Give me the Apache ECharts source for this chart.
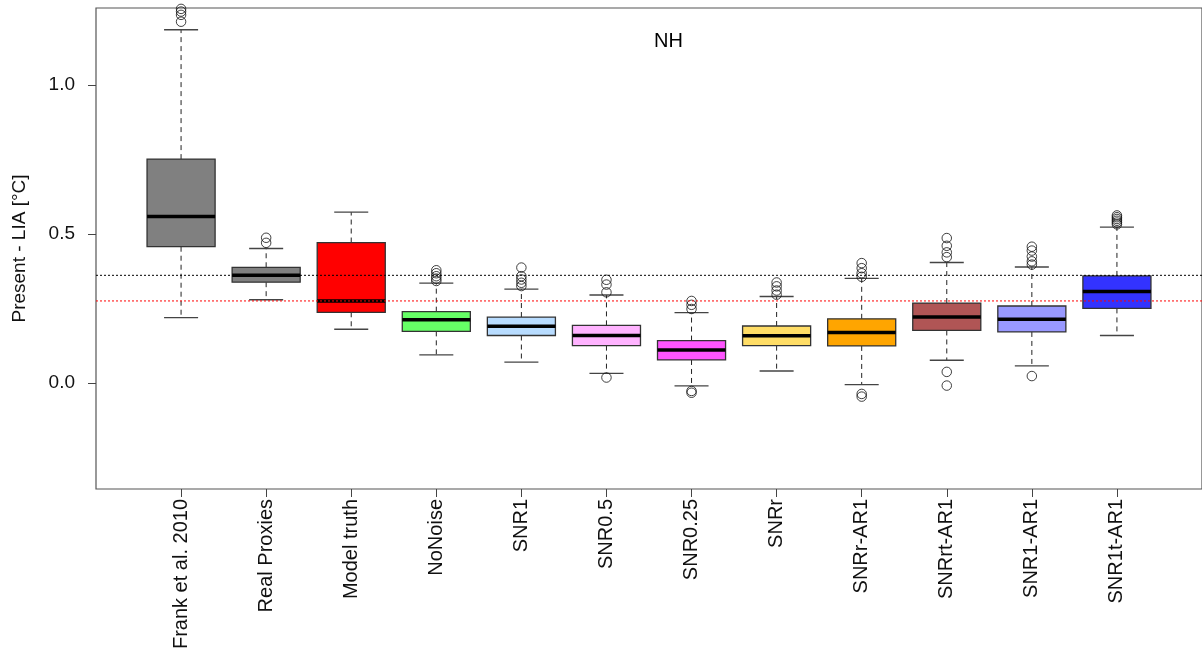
<!DOCTYPE html>
<html>
<head>
<meta charset="utf-8">
<script src="https://cdn.jsdelivr.net/npm/echarts@6/dist/echarts.min.js"></script>
<style>
  html, body { margin: 0; padding: 0; background: #fff; }
  #chart { width: 1202px; height: 656px; }
</style>
</head>
<body>
<div id="chart"></div>
<script>
// Present minus Little Ice Age temperature difference, Northern Hemisphere
const categories = ['Frank et al. 2010', 'Real Proxies', 'Model truth', 'NoNoise', 'SNR1', 'SNR0.5',
  'SNR0.25', 'SNRr', 'SNRr-AR1', 'SNRrt-AR1', 'SNR1-AR1', 'SNR1t-AR1'];
const whiskerLow  = [0.219, 0.279, 0.180, 0.094, 0.070, 0.032, -0.010, 0.040, -0.006, 0.076, 0.057, 0.159];
const q1          = [0.457, 0.338, 0.237, 0.173, 0.159, 0.125, 0.077, 0.125, 0.124, 0.176, 0.171, 0.250];
const median      = [0.558, 0.361, 0.275, 0.212, 0.190, 0.159, 0.110, 0.158, 0.169, 0.221, 0.214, 0.307];
const q3          = [0.751, 0.388, 0.471, 0.239, 0.221, 0.193, 0.142, 0.191, 0.215, 0.268, 0.258, 0.359];
const whiskerHigh = [1.185, 0.451, 0.573, 0.335, 0.315, 0.295, 0.236, 0.290, 0.351, 0.404, 0.389, 0.523];
const outliers = [
  [1.212, 1.235, 1.246, 1.255],
  [0.470, 0.487],
  [],
  [0.342, 0.350, 0.358, 0.368, 0.378],
  [0.325, 0.336, 0.347, 0.358, 0.387],
  [0.018, 0.304, 0.330, 0.346],
  [-0.033, -0.027, 0.248, 0.262, 0.275],
  [0.296, 0.310, 0.324, 0.337],
  [-0.046, -0.037, 0.356, 0.368, 0.385, 0.402],
  [-0.009, 0.037, 0.422, 0.438, 0.460, 0.486],
  [0.023, 0.397, 0.408, 0.424, 0.444, 0.457],
  [0.532, 0.538, 0.544, 0.550, 0.556, 0.562]
];
const boxColors = ['#808080', '#808080', '#ff0000', '#66ff66', '#b8dcff', '#ffb3ff',
  '#ff55ff', '#ffdd66', '#ffa500', '#b05555', '#9999ff', '#3333ff'];
const yTicks = [0, 0.5, 1.0];
const yRange = [-0.356, 1.258];

// reference levels: medians of the real-proxy and model-truth distributions
const refLines = [
  { name: 'Real Proxies median', value: median[1], color: '#000000' },
  { name: 'Model truth median', value: median[2], color: '#ff0000' }
];

const FONT = 'Liberation Sans, Arial, sans-serif';
// pad the category axis with an empty slot on each side so the frame extends past the outer boxes
const axisCats = [''].concat(categories, ['']);
const lastSlot = axisCats.length - 1;

const boxData = categories.map((c, i) => [i + 1, whiskerLow[i], q1[i], median[i], q3[i], whiskerHigh[i]]);
const outlierData = [];
outliers.forEach((arr, i) => arr.forEach(v => outlierData.push([i + 1, v])));

function renderBox(params, api) {
  const x = api.value(0);
  const band = api.size([1, 0])[0];
  const half = band * 0.4;
  const capHalf = half * 0.5;
  const pLo = api.coord([x, api.value(1)]);
  const pQ1 = api.coord([x, api.value(2)]);
  const pMed = api.coord([x, api.value(3)]);
  const pQ3 = api.coord([x, api.value(4)]);
  const pHi = api.coord([x, api.value(5)]);
  const cx = pMed[0];
  const dash = { stroke: '#222', lineWidth: 1, lineDash: [5, 4] };
  const solid = { stroke: '#444', lineWidth: 1.3 };
  return {
    type: 'group',
    children: [
      { type: 'line', shape: { x1: cx, y1: pQ3[1], x2: cx, y2: pHi[1] }, style: dash },
      { type: 'line', shape: { x1: cx, y1: pQ1[1], x2: cx, y2: pLo[1] }, style: dash },
      { type: 'line', shape: { x1: cx - capHalf, y1: pHi[1], x2: cx + capHalf, y2: pHi[1] }, style: solid },
      { type: 'line', shape: { x1: cx - capHalf, y1: pLo[1], x2: cx + capHalf, y2: pLo[1] }, style: solid },
      {
        type: 'rect',
        shape: { x: cx - half, y: pQ3[1], width: half * 2, height: pQ1[1] - pQ3[1] },
        style: { fill: boxColors[x - 1], stroke: '#333', lineWidth: 1.3 }
      },
      { type: 'line', shape: { x1: cx - half, y1: pMed[1], x2: cx + half, y2: pMed[1] },
        style: { stroke: '#000', lineWidth: 3.5 } }
    ]
  };
}

// horizontal dotted reference lines across the whole plotting frame
const refSeries = refLines.map(r => ({
  type: 'line',
  name: r.name,
  data: [[0, r.value], [lastSlot, r.value]],
  showSymbol: false,
  symbol: 'none',
  z: 4,
  silent: true,
  lineStyle: { color: r.color, type: [2, 2], width: 1 },
  itemStyle: { color: r.color }
}));

const chart = echarts.init(document.getElementById('chart'), null, { renderer: 'canvas' });
chart.setOption({
  animation: false,
  backgroundColor: '#ffffff',
  textStyle: { fontFamily: FONT },
  title: {
    text: 'NH', left: 649, top: 26,
    textStyle: { fontFamily: FONT, fontSize: 20, fontWeight: 'normal', color: '#000' }
  },
  grid: {
    left: 96, top: 8, width: 13 * 85.6, height: 481,
    show: true, borderColor: '#555', borderWidth: 1.2, backgroundColor: 'transparent'
  },
  xAxis: {
    type: 'category',
    data: axisCats,
    boundaryGap: false,
    axisLine: { show: false, onZero: false },
    axisTick: {
      show: true, length: 8, lineStyle: { color: '#444', width: 1 },
      interval: (idx, val) => val !== ''
    },
    axisLabel: {
      rotate: 90, margin: 10, interval: 0,
      fontFamily: FONT, fontSize: 20, color: '#111'
    },
    splitLine: { show: false }
  },
  yAxis: {
    type: 'value',
    min: yRange[0], max: yRange[1],
    name: 'Present - LIA [°C]',
    nameLocation: 'middle', nameGap: 67, nameRotate: 90,
    nameTextStyle: { fontFamily: FONT, fontSize: 19, color: '#111' },
    axisLine: { show: false },
    axisTick: { show: true, length: 8, lineStyle: { color: '#444', width: 1 }, customValues: yTicks },
    axisLabel: {
      fontFamily: FONT, fontSize: 19, color: '#111', margin: 21,
      customValues: yTicks,
      formatter: v => v.toFixed(1)
    },
    splitLine: { show: false }
  },
  series: [
    {
      type: 'custom',
      name: 'boxes',
      renderItem: renderBox,
      data: boxData,
      encode: { x: 0, y: [1, 2, 3, 4, 5] },
      z: 2,
      clip: true
    },
    {
      type: 'scatter',
      name: 'outliers',
      data: outlierData,
      symbol: 'circle',
      symbolSize: 9.5,
      itemStyle: { color: 'rgba(0,0,0,0)', borderColor: '#111', borderWidth: 1 },
      z: 3,
      clip: true,
      silent: true
    }
  ].concat(refSeries)
});
</script>
</body>
</html>
